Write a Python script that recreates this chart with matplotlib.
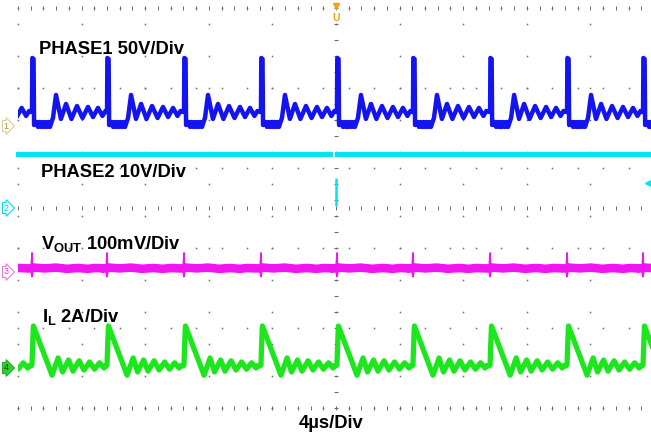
import matplotlib
matplotlib.use("Agg")
import matplotlib.pyplot as plt
from matplotlib.patches import Rectangle
import numpy as np

# rising edges of PHASE1, us from the left edge of the screen
# (the first one is the cycle just before the screen starts)
edges_us = [-3.92, 0.88, 5.60, 10.44, 15.28, 20.06, 24.84, 29.69, 34.53, 39.31]

# one switching cycle, time measured from the rising edge
phase1_t = [-0.06, 0.00, 0.02, 0.10, 0.13, 0.28, 0.38, 0.47, 0.57, 0.66, 0.75, 0.85,
            0.94, 1.04, 1.13, 1.23, 1.32, 1.51, 1.82, 2.14, 2.48, 2.83, 3.18, 3.52,
            3.84, 4.15, 4.43, 4.62]
phase1_v = [8.8, 8.8, 42.5, 41.9, 0.6, 2.5, -0.6, 2.5, -0.6, 2.5, -0.6, 2.5,
            -0.6, 2.5, -0.6, 2.5, 5.0, 19.4, 4.4, 13.8, 4.4, 12.5, 5.0, 11.9,
            5.6, 11.3, 6.3, 9.4]

phase2_t = [0.0, 40.0]
phase2_v = [6.7, 6.7]

# VOUT noise band (upper / lower edge), mV
vout_t = [-0.30, -0.06, -0.02, 0.00, 0.03, 0.06, 0.12, 0.80, 1.50, 2.20, 2.90, 3.50, 4.00, 4.50]
vout_hi = [9.0, 9.0, 18.0, 24.0, 12.0, 9.0, 10.0, 9.0, 10.0, 8.5, 9.5, 8.5, 9.5, 9.0]
vout_lo = [0.0, 0.0, -4.0, -6.0, -3.0, 0.0, 1.0, 0.0, 1.0, -0.5, 0.5, -0.5, 0.5, 0.0]

il_t = [-0.06, 0.00, 0.04, 0.09, 1.26, 1.64, 1.92, 2.30, 2.58, 2.96, 3.27, 3.62,
        3.93, 4.25, 4.53, 4.62]
il_a = [0.05, 0.08, 0.58, 1.05, -0.18, 0.25, -0.10, 0.20, -0.08, 0.18, -0.05, 0.15,
        -0.03, 0.13, 0.00, 0.06]

# scope settings: units per division and ground offset in divisions
CH = {
    "phase1": dict(scale=50.0, offset=1.025, color="#1414f0", lw=3.2),
    "phase2": dict(scale=10.0, offset=0.0, color="#00e6f0", lw=3.6),
    "vout": dict(scale=100.0, offset=-0.8, color="#f014f0", lw=1.0),
    "il": dict(scale=2.0, offset=-2.0, color="#1ee61e", lw=3.8),
}

plt.rcParams["font.family"] = ["Liberation Sans", "DejaVu Sans"]
plt.rcParams["mathtext.fontset"] = "custom"
plt.rcParams["mathtext.bf"] = "Liberation Sans:bold"
plt.rcParams["mathtext.rm"] = "Liberation Sans:bold"


def tile(tmpl_t, *tmpl_y):
    t = np.concatenate([e + np.asarray(tmpl_t) for e in edges_us])
    ys = [np.concatenate([np.asarray(y, dtype=float) for _ in edges_us]) for y in tmpl_y]
    return (t, *ys)


fig = plt.figure(figsize=(6.51, 4.34), dpi=100)
ax = fig.add_axes([0, 0, 1, 1])
ax.set_xlim(-1.132, 39.81)
ax.set_ylim(-2.825, 2.6)
ax.axis("off")

# graticule
gcol = "#6a6a6a"
vv = np.arange(-2.5, 2.51, 0.4)
for tx in np.arange(0, 40.1, 4):
    ax.plot(np.full(len(vv), tx), vv, ls="none", marker="s", ms=1.1, mew=0, color=gcol, zorder=1)
tt = np.arange(0, 40.1, 1.6)
for vy in np.arange(-2.5, 2.51, 1.0):
    ax.plot(tt, np.full(len(tt), vy), ls="none", marker="s", ms=1.1, mew=0, color=gcol, zorder=1)
ax.hlines(np.arange(-2.5, 2.51, 0.2), 20 - 0.15, 20 + 0.15, color=gcol, lw=0.8, zorder=1)
ticks_t = np.arange(0, 40.1, 0.8)
for vy in (0.0, 2.5, -2.5):
    ax.vlines(ticks_t, vy - 0.025, vy + 0.025, color=gcol, lw=0.7, zorder=1)

screen = Rectangle((0, -3), 40, 6, transform=ax.transData)

# traces
t, y = tile(phase1_t, phase1_v)
c = CH["phase1"]
ln, = ax.plot(t, y / c["scale"] + c["offset"], color=c["color"], lw=c["lw"], zorder=3)
ln.set_clip_path(screen)

c = CH["phase2"]
ax.plot(phase2_t, np.asarray(phase2_v) / c["scale"] + c["offset"], color=c["color"],
        lw=c["lw"], zorder=3)
ax.vlines(19.88, 0.61, 0.72, color="white", lw=1.4, zorder=4)
ax.vlines(20.0, 0.03, 0.38, color=c["color"], lw=1.8, zorder=4)
ax.plot([39.6], [0.31], marker="<", ms=5, color=c["color"], zorder=4)

t, hi, lo = tile(vout_t, vout_hi, vout_lo)
c = CH["vout"]
poly = ax.fill_between(t, lo / c["scale"] + c["offset"], hi / c["scale"] + c["offset"],
                       color=c["color"], lw=c["lw"], zorder=3)
poly.set_clip_path(screen)

t, y = tile(il_t, il_a)
c = CH["il"]
ln, = ax.plot(t, y / c["scale"] + c["offset"], color=c["color"], lw=c["lw"], zorder=3)
ln.set_clip_path(screen)

# channel ground markers
marks = [("1", CH["phase1"]["offset"], "white", "#d8cf90", "#a09050"),
         ("2", CH["phase2"]["offset"], "white", "#00e0f0", "#00c8e0"),
         ("3", CH["vout"]["offset"], "white", "#e080e0", "#c040c0"),
         ("4", CH["il"]["offset"], "#30d030", "#20b020", "#104010")]
for txt, off, fc, ec, tc in marks:
    ax.text(-0.75, off, txt, fontsize=6.5, color=tc, ha="center", va="center",
            bbox=dict(boxstyle="rarrow,pad=0.12", fc=fc, ec=ec, lw=0.8), zorder=5)

# trigger position marker
ax.plot([20.0], [2.53], marker="v", ms=4, color="#f0a020", zorder=5)
ax.text(20.0, 2.38, "U", fontsize=7.5, fontweight="bold", color="#f0a020",
        ha="center", va="center", zorder=5)

fs = 13.2
ax.text(1.32, 1.925, "PHASE1 50V/Div", fontsize=fs, fontweight="bold", va="baseline", zorder=6)
ax.text(1.45, 0.3875, "PHASE2 10V/Div", fontsize=fs, fontweight="bold", va="baseline", zorder=6)
ax.text(1.45, -0.5125, r"$\mathbf{V_{OUT}}$ 100mV/Div", fontsize=fs, fontweight="bold",
        va="baseline", zorder=6)
ax.text(1.51, -1.425, r"$\mathbf{I_{L}}$ 2A/Div", fontsize=fs, fontweight="bold",
        va="baseline", zorder=6)
ax.text(19.69, -2.75, "4µs/Div", fontsize=fs, fontweight="bold", ha="center",
        va="baseline", zorder=6)

fig.savefig("out.png", dpi=100)
